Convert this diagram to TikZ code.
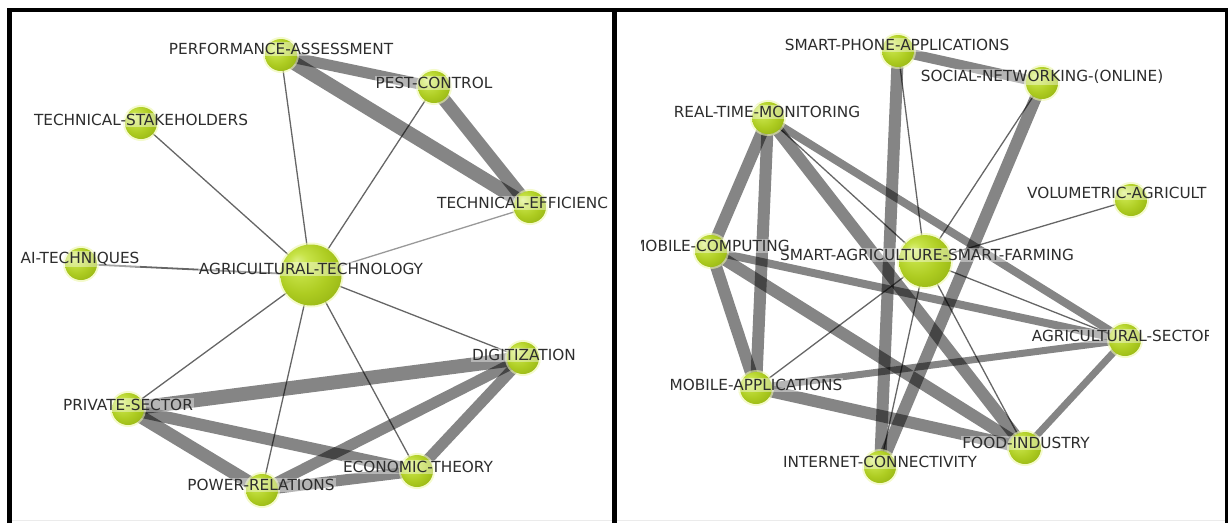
\documentclass[tikz,border=0pt]{standalone}
\usepackage{fontspec}
\setmainfont{DejaVu Sans}
\pgfdeclarelayer{bg}
\pgfdeclarelayer{edges}
\pgfsetlayers{bg,edges,main}
\pgfdeclareradialshading{limeball}{\pgfpoint{-12bp}{12bp}}{%
  rgb(0bp)=(0.86,0.94,0.50);
  rgb(8bp)=(0.78,0.89,0.28);
  rgb(22bp)=(0.68,0.80,0.13);
  rgb(36bp)=(0.58,0.70,0.07);
  rgb(50bp)=(0.48,0.58,0.04)}
\definecolor{glowcol}{RGB}{238,248,170}
\definecolor{labcol}{RGB}{45,45,45}
\tikzset{
  ballnode/.style={circle, inner sep=0pt, minimum size=#1, shade, shading=limeball,
    preaction={draw=glowcol, line width=4pt, draw opacity=0.6}},
  small/.style={ballnode=32pt},
  lab/.style={font=\fontsize{15.3}{15.3}\selectfont, text=labcol, fill=white,
    fill opacity=0.4, text opacity=1, inner sep=1pt},
  wide/.style={line width=#1, draw=black, draw opacity=0.48},
  thinE/.style={line width=1.3pt, draw=black, draw opacity=0.6},
  frame/.style={draw=black, line width=4.5pt},
}
\begin{document}
\begin{tikzpicture}[x=1pt, y=-1pt]
\useasboundingbox (0,0) rectangle (1228,523);
\begin{pgfonlayer}{bg}
\fill[white] (0,0) rectangle (1228,523);
\end{pgfonlayer}

% ---------------- left panel ----------------
\node[small] (perf) at (281,55) {};
\node[small] (pest) at (434,87) {};
\node[small] (stake) at (141,123) {};
\node[small] (eff) at (530,207) {};
\node[small] (ai) at (81,264) {};
\node[ballnode=61pt] (agri) at (311,275) {};
\node[small] (digit) at (523,358) {};
\node[small] (priv) at (128,409) {};
\node[small] (econ) at (417,471) {};
\node[small] (power) at (262,490) {};

\node[lab] (perfL) at (281,49) {PERFORMANCE-ASSESSMENT};
\node[lab] (pestL) at (434,83) {PEST-CONTROL};
\node[lab] (stakeL) at (141,120) {TECHNICAL-STAKEHOLDERS};
\node[lab, anchor=west] (effL) at (436,203) {TECHNICAL-EFFICIENC};
\node[lab] (aiL) at (80,259) {AI-TECHNIQUES};
\node[lab] (agriL) at (311,269) {AGRICULTURAL-TECHNOLOGY};
\node[lab] (digitL) at (524,355) {DIGITIZATION};
\node[lab] (privL) at (128,405) {PRIVATE-SECTOR};
\node[lab] (econL) at (418,467) {ECONOMIC-THEORY};
\node[lab] (powerL) at (261,485) {POWER-RELATIONS};

% ---------------- right panel ----------------
\node[small] (phone) at (898,51) {};
\node[small] (social) at (1042,83) {};
\node[small] (realtime) at (768,118) {};
\node[small] (volu) at (1131,200) {};
\node[small] (mcomp) at (711,251) {};
\node[ballnode=52pt] (smartag) at (925,261) {};
\node[small] (agsec) at (1125,340) {};
\node[small] (mapps) at (756,388) {};
\node[small] (food) at (1025,448) {};
\node[small] (inet) at (880,467) {};

\node[lab] (phoneL) at (897,45) {SMART-PHONE-APPLICATIONS};
\node[lab] (socialL) at (1042,77) {SOCIAL-NETWORKING-(ONLINE)};
\node[lab] (realtimeL) at (767,112) {REAL-TIME-MONITORING};
\node[lab, anchor=west] (voluL) at (1026,193) {VOLUMETRIC-AGRICULT};
\node[lab] (smartagL) at (927,255) {SMART-AGRICULTURE-SMART-FARMING};
\node[lab] (mappsL) at (756,385) {MOBILE-APPLICATIONS};
\node[lab] (foodL) at (1026,443) {FOOD-INDUSTRY};
\node[lab] (inetL) at (880,462) {INTERNET-CONNECTIVITY};
\begin{scope}
\clip (641,12) rectangle (1208,519);
\node[lab] (mcompL) at (711,246) {MOBILE-COMPUTING};
\node[lab] (agsecL) at (1123,336) {AGRICULTURAL-SECTOR};
\end{scope}

% ---------------- edges ----------------
\begin{pgfonlayer}{edges}
% left
\draw[wide=11pt] (perf.center) -- (pest.center);
\draw[wide=14pt] (perf.center) -- (eff.center);
\draw[wide=13pt] (pest.center) -- (eff.center);
\draw[thinE] (perf.center) -- (agri.center);
\draw[thinE] (pest.center) -- (agri.center);
\draw[thinE] (stake.center) -- (agri.center);
\draw[thinE, draw opacity=0.4] (eff.center) -- (agri.center);
\draw[thinE, line width=1.8pt] (ai.center) -- (agri.center);
\draw[thinE] (agri.center) -- (digit.center);
\draw[thinE] (agri.center) -- (priv.center);
\draw[thinE] (agri.center) -- (power.center);
\draw[thinE] (agri.center) -- (econ.center);
\draw[wide=14pt] (priv.center) -- (digit.center);
\draw[wide=12pt] (priv.center) -- (econ.center);
\draw[wide=13pt] (priv.center) -- (power.center);
\draw[wide=11pt] (power.center) -- (digit.center);
\draw[wide=11pt] (econ.center) -- (digit.center);
\draw[wide=11pt] (power.center) -- (econ.center);
% right
\draw[wide=10pt] (phone.center) -- (social.center);
\draw[wide=12pt] (phone.center) -- (inet.center);
\draw[thinE] (phone.center) -- (smartag.center);
\draw[wide=12pt] (social.center) -- (inet.center);
\draw[thinE] (social.center) -- (smartag.center);
\draw[thinE] (volu.center) -- (smartag.center);
\draw[wide=12pt] (realtime.center) -- (mcomp.center);
\draw[wide=12pt] (realtime.center) -- (mapps.center);
\draw[wide=12pt] (realtime.center) -- (food.center);
\draw[thinE] (realtime.center) -- (smartag.center);
\draw[wide=8pt] (realtime.center) -- (agsec.center);
\draw[wide=12pt] (mcomp.center) -- (mapps.center);
\draw[wide=12pt] (mcomp.center) -- (food.center);
\draw[wide=8pt] (mcomp.center) -- (agsec.center);
\draw[thinE] (mapps.center) -- (smartag.center);
\draw[wide=7pt] (mapps.center) -- (agsec.center);
\draw[wide=12pt] (mapps.center) -- (food.center);
\draw[thinE] (smartag.center) -- (agsec.center);
\draw[thinE] (smartag.center) -- (food.center);
\draw[thinE] (smartag.center) -- (inet.center);
\draw[wide=7pt] (agsec.center) -- (food.center);
\end{pgfonlayer}

% ---------------- frame ----------------
\draw[black!8, line width=1.5pt] (12,520.5) -- (612,520.5);
\draw[black!8, line width=1.5pt] (617,520.5) -- (1225,520.5);
\draw[frame, line join=miter] (9.5,523) -- (9.5,10) -- (1226.5,10);
\draw[frame] (614.5,10) -- (614.5,523);
\draw[draw=black, line width=3pt] (1226.5,8) -- (1226.5,523);
\end{tikzpicture}
\end{document}
